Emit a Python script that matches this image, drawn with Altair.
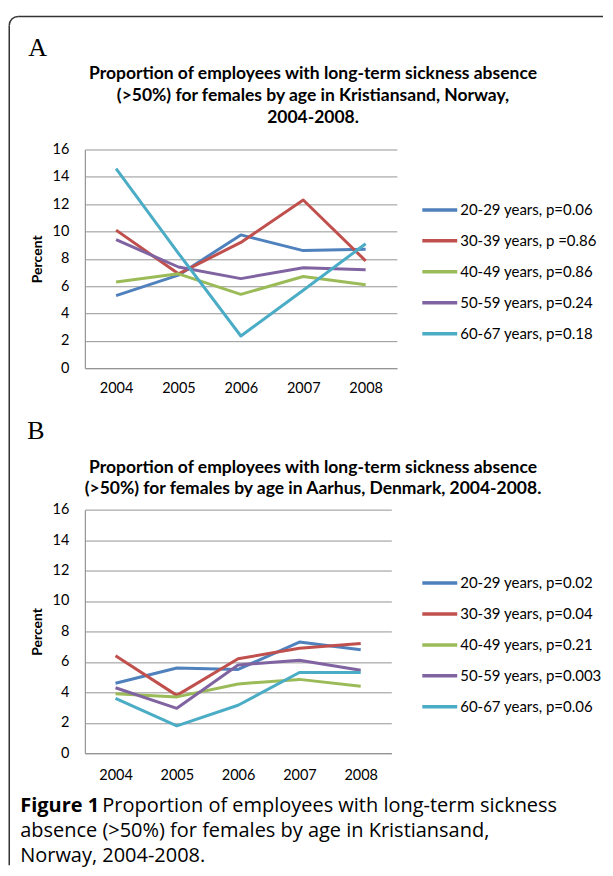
import altair as alt
import pandas as pd

years = ["2004", "2005", "2006", "2007", "2008"]

labels_a = ["20-29 years, p=0.06", "30-39 years, p =0.86", "40-49 years, p=0.86",
            "50-59 years, p=0.24", "60-67 years, p=0.18"]
a_20 = [5.3, 6.8, 9.75, 8.6, 8.7]
a_30 = [10.1, 6.9, 9.2, 12.3, 7.85]
a_40 = [6.3, 6.9, 5.4, 6.7, 6.1]
a_50 = [9.4, 7.4, 6.55, 7.35, 7.2]
a_60 = [14.6, 8.4, 2.35, 5.7, 9.1]

labels_b = ["20-29 years, p=0.02", "30-39 years, p=0.04", "40-49 years, p=0.21",
            "50-59 years, p=0.003", "60-67 years, p=0.06"]
b_20 = [4.6, 5.6, 5.5, 7.3, 6.8]
b_30 = [6.4, 3.8, 6.2, 6.9, 7.2]
b_40 = [3.9, 3.7, 4.55, 4.85, 4.4]
b_50 = [4.3, 2.95, 5.8, 6.1, 5.45]
b_60 = [3.6, 1.8, 3.15, 5.3, 5.3]

colors = ["#4F81BD", "#C0504D", "#9BBB59", "#8064A2", "#4BACC6"]
y_ticks = [0, 2, 4, 6, 8, 10, 12, 14, 16]

title_a = ["Proportion of employees with long-term sickness absence",
           "(>50%) for females by age in Kristiansand, Norway,",
           "2004-2008."]
title_b = ["Proportion of employees with long-term sickness absence",
           "(>50%) for females by age in Aarhus, Denmark, 2004-2008."]
caption_bold = "Figure 1"
caption_lines = ["Proportion of employees with long-term sickness",
                 "absence (>50%) for females by age in Kristiansand,",
                 "Norway, 2004-2008."]

FONT = "Lato"
GRID = "#959595"


def long_df(labels, series):
    rows = []
    for lab, vals in zip(labels, series):
        for yr, v in zip(years, vals):
            rows.append({"year": yr, "value": v, "series": lab})
    return pd.DataFrame(rows)


df_a = long_df(labels_a, [a_20, a_30, a_40, a_50, a_60])
df_b = long_df(labels_b, [b_20, b_30, b_40, b_50, b_60])

one = alt.Data(values=[{"k": 0}])


def txt(s, x, y, size, weight="normal", font=FONT, align="left"):
    return alt.Chart(one).mark_text(
        align=align, baseline="alphabetic", font=font, fontSize=size,
        fontWeight=weight, color="#000000"
    ).encode(x=alt.value(x), y=alt.value(y), text=alt.value(s))


def lines(df, labels, legend_x, legend_y, xpad):
    return alt.Chart(df).mark_line(strokeWidth=3, strokeJoin="round").encode(
        x=alt.X("year:O", sort=years,
                scale=alt.Scale(type="point", padding=0.5),
                axis=alt.Axis(title=None, labelAngle=0, ticks=False, labelPadding=xpad,
                              domainColor=GRID, domainWidth=1.2, grid=False,
                              labelFont=FONT, labelFontSize=14.5, labelColor="#000000")),
        y=alt.Y("value:Q", scale=alt.Scale(domain=[0, 16], nice=False),
                axis=alt.Axis(values=y_ticks, title="Percent", ticks=False, labelPadding=16,
                              domainColor=GRID, domainWidth=1.2, gridColor=GRID, gridWidth=1,
                              labelFont=FONT, labelFontSize=14.5, labelColor="#000000",
                              titleFont=FONT, titleFontSize=14, titleFontWeight="bold",
                              titleColor="#000000", titlePadding=8)),
        color=alt.Color("series:N", sort=labels,
                        scale=alt.Scale(domain=labels, range=colors),
                        legend=alt.Legend(orient="none", legendX=legend_x, legendY=legend_y,
                                          title=None, symbolType="stroke", symbolSize=1225,
                                          symbolStrokeWidth=3.5, labelFont=FONT,
                                          labelFontSize=15, labelColor="#000000",
                                          labelOffset=1, labelLimit=400, padding=0,
                                          rowPadding=3)),
    )


# border (relative to panel A plot origin)
L, T, R = -75.75, -133.25, 9
border_top = alt.Chart(one).mark_rule(color="#333333", strokeWidth=1.5).encode(
    x=alt.value(L + R), x2=alt.value(519), y=alt.value(T))
border_left = alt.Chart(one).mark_rule(color="#333333", strokeWidth=1.5).encode(
    x=alt.value(L), y=alt.value(T + R), y2=alt.value(717))
border_corner = alt.Chart(one).mark_arc(color="#333333").encode(
    x=alt.value(L + R), y=alt.value(T + R),
    theta=alt.value(4.712389), theta2=alt.value(6.283185),
    radius=alt.value(R + 0.75), radius2=alt.value(R - 0.75))

cx = 228.5
TS = 17.5
panel_a = alt.layer(
    border_top, border_left, border_corner,
    txt("A", -56.75, -93.5, 26, font="Liberation Serif"),
    txt(title_a[0], cx, -71, TS, "bold", align="center"),
    txt(title_a[1], cx, -48.5, TS, "bold", align="center"),
    txt(title_a[2], cx, -26.5, TS, "bold", align="center"),
    lines(df_a, labels_a, 336, 41, 13),
).properties(width=312.5, height=219)

panel_b = alt.layer(
    txt("B", -57.75, -71, 26, font="Liberation Serif"),
    txt(title_b[0], cx, -37, TS, "bold", align="center"),
    txt(title_b[1], cx, -16, TS, "bold", align="center"),
    txt(caption_bold, -64.75, 303, 20, "bold", font="Open Sans"),
    txt(caption_lines[0], 17.5, 303, 20, font="Open Sans"),
    txt(caption_lines[1], -64.75, 328, 20, font="Open Sans"),
    txt(caption_lines[2], -64.75, 353, 20, font="Open Sans"),
    lines(df_b, labels_b, 336, 54, 15),
).properties(width=307, height=244)

chart = alt.vconcat(panel_a, panel_b, spacing=141.75, bounds="flush").resolve_scale(
    color="independent", x="independent", y="independent"
).properties(
    padding={"left": 0, "top": 6, "right": 0, "bottom": 0}
).configure_view(stroke="transparent")

chart.save("out.html", embed_options={"renderer": "svg", "actions": False})
